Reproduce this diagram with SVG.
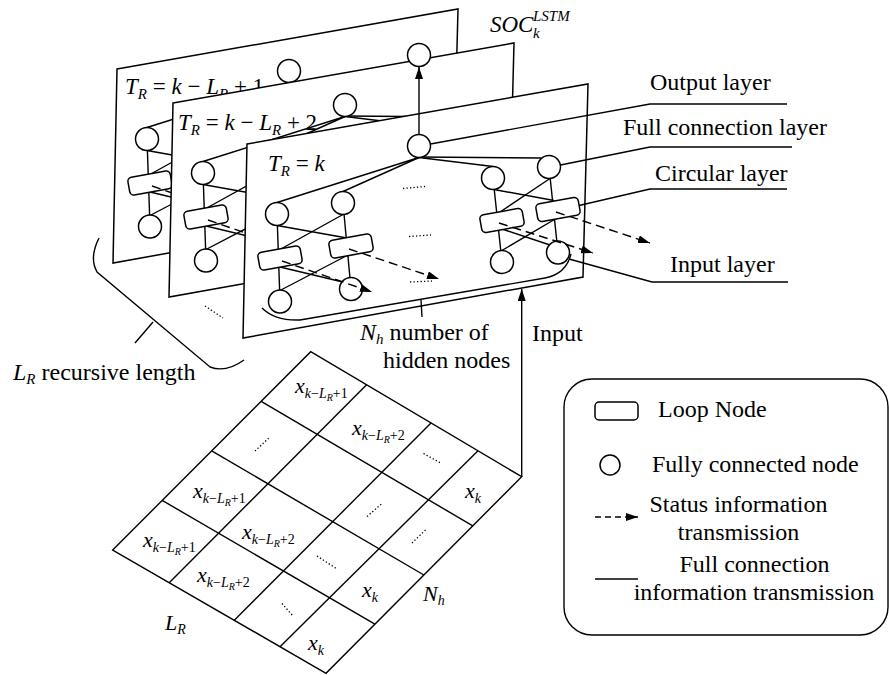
<svg xmlns="http://www.w3.org/2000/svg" width="889" height="675" viewBox="0 0 889 675" font-family="'Liberation Serif', 'Times New Roman', serif">
<style>
.ln{stroke:#000;stroke-width:1.4;fill:none}
.panel{fill:#fff;stroke:#000;stroke-width:1.5}
.nd{fill:#fff;stroke:#000;stroke-width:1.5}
.dash{stroke:#000;stroke-width:1.4;fill:none;stroke-dasharray:9 5}
.dot{stroke:#000;stroke-width:1.3;fill:none;stroke-dasharray:1.3 2.2}
text{font-family:'Liberation Serif','Times New Roman',serif;fill:#000}
.t{font-size:24px}
.f{font-size:23px}
.g{font-size:22px}
.i{font-style:italic}
</style>
<defs>
<marker id="ah" viewBox="0 0 12 8" refX="12" refY="4" markerWidth="12" markerHeight="8" markerUnits="userSpaceOnUse" orient="auto"><path d="M0,0 L12,4 L0,8 z" fill="#000"/></marker>
<rect id="loop" x="-21.5" y="-9" width="43" height="18" rx="4" class="nd"/>
<g id="panelNet">
<polygon class="panel" points="247,144 588,84 583,277 243,338"/>
<g id="net-connectors" class="ln">
<path d="M419,157.5 L277,202.5"/>
<path d="M419,157.5 L343,191.5"/>
<path d="M419,157.5 L493,166.5"/>
<path d="M419,157 L541,158"/>
<path d="M277,214 L280,301.5"/>
<path d="M343,203 L351,289"/>
<path d="M493,178 L502,262"/>
<path d="M549,167 L558,252.5"/>
<path d="M277,225.5 L347,238"/>
<path d="M343,214.5 L279,250"/>
<path d="M280,267 L347,283"/>
<path d="M348,255 L279,291"/>
<path d="M494,189.5 L554,200.5"/>
<path d="M550,178.5 L500,212"/>
<path d="M502,229 L556,247"/>
<path d="M557,218 L501,251"/>
</g>
<g id="node-center"><circle class="nd" cx="419" cy="146" r="11.5"/></g>
<g id="node-fc1"><circle class="nd" cx="277" cy="214" r="11.5"/></g>
<g id="node-fc2"><circle class="nd" cx="343" cy="203" r="11.5"/></g>
<g id="node-fc3"><circle class="nd" cx="493" cy="178" r="11.5"/></g>
<g id="node-fc4"><circle class="nd" cx="549" cy="167" r="11.5"/></g>
<g id="node-loop1"><use href="#loop" transform="translate(280,258) rotate(-10)"/></g>
<g id="node-loop2"><use href="#loop" transform="translate(351,246) rotate(-10)"/></g>
<g id="node-loop3"><use href="#loop" transform="translate(502,220.5) rotate(-10)"/></g>
<g id="node-loop4"><use href="#loop" transform="translate(558,209.5) rotate(-10)"/></g>
<g id="node-in1"><circle class="nd" cx="280" cy="301.5" r="11.5"/></g>
<g id="node-in2"><circle class="nd" cx="351" cy="289" r="11.5"/></g>
<g id="node-in3"><circle class="nd" cx="502" cy="262" r="11.5"/></g>
<g id="node-in4"><circle class="nd" cx="558" cy="252.5" r="11.5"/></g>
<g id="net-status" class="dash">
<path d="M282,261 L372,292" marker-end="url(#ah)"/>
<path d="M349,249 L439,279" marker-end="url(#ah)"/>
<path d="M499,223 L593,253" marker-end="url(#ah)"/>
<path d="M556,212 L650,243" marker-end="url(#ah)"/>
</g>
<g class="dot">
<path d="M403,188.5 L425,186.5"/>
<path d="M409,236.5 L431,235"/>
<path d="M410,282 L432,281"/>
</g>
</g>
</defs>
<rect width="889" height="675" fill="#fff"/>

<g id="panel-1">
<use href="#panelNet" transform="translate(-130,-75)"/>
<text x="125" y="94" class="f"><tspan class="i">T</tspan><tspan class="i" font-size="15" dy="5">R</tspan><tspan dy="-5"> = </tspan><tspan class="i">k</tspan><tspan> − </tspan><tspan class="i">L</tspan><tspan class="i" font-size="15" dy="5">R</tspan><tspan dy="-5"> + 1</tspan></text>
</g>
<g id="panel-2">
<use href="#panelNet" transform="translate(-74,-41)"/>
<text x="178" y="130" class="f"><tspan class="i">T</tspan><tspan class="i" font-size="15" dy="5">R</tspan><tspan dy="-5"> = </tspan><tspan class="i">k</tspan><tspan> − </tspan><tspan class="i">L</tspan><tspan class="i" font-size="15" dy="5">R</tspan><tspan dy="-5"> + 2</tspan></text>
</g>
<g id="panel-3">
<use href="#panelNet"/>
<text x="268" y="170.5" class="f"><tspan class="i">T</tspan><tspan class="i" font-size="15" dy="5">R</tspan><tspan dy="-5"> = </tspan><tspan class="i">k</tspan></text>
</g>

<g id="connectors" class="ln">
<path d="M419,134.5 L419,67" marker-end="url(#ah)"/>
<path d="M430.5,144 L650,104 L787,104"/>
<path d="M560.5,165 L650,147 L792,147"/>
<path d="M579,205.5 L650,189 L787,189"/>
<path d="M569,259 L652,282 L788,282"/>
<path d="M262,308 Q275,321 300,320 L545,278 Q566,274 571,254"/>
<path d="M421,300 L422,317"/>
<path d="M99,238 Q89,258 97,272 L210,367 Q226,373 244,360"/>
<path d="M153,322 L135,343"/>
<path d="M521.7,477 L521.7,289" marker-end="url(#ah)"/>
<path class="dot" d="M205,306 L223,318"/>
</g>

<g id="node-output"><circle class="nd" cx="419" cy="55" r="11.5"/></g>
<text x="490" y="32" class="f i">SOC</text>
<text x="533" y="21" class="i" font-size="15">LSTM</text>
<text x="533" y="38" class="i" font-size="15">k</text>

<text x="650" y="90" class="t">Output layer</text>
<text x="623" y="135" class="t">Full connection layer</text>
<text x="655" y="181" class="t">Circular layer</text>
<text x="670" y="272" class="t">Input layer</text>

<text x="532" y="341" class="t">Input</text>
<text x="360" y="340" class="t"><tspan class="i">N</tspan><tspan class="i" font-size="15" dy="4">h</tspan><tspan dy="-4"> number of</tspan></text>
<text x="383" y="368" class="t">hidden nodes</text>
<text x="13" y="380" class="t"><tspan class="i">L</tspan><tspan class="i" font-size="15" dy="4">R</tspan><tspan dy="-4"> recursive length</tspan></text>

<g id="grid">
<polygon class="ln" points="112.7,550 310.7,351.7 521.7,476.7 326,673.3"/>
<g class="ln">
<path d="M162.2,500.4 L374.9,624.2"/>
<path d="M211.7,450.9 L423.9,575"/>
<path d="M261.2,401.3 L472.8,525.9"/>
<path d="M169.2,582.7 L366.6,384.8"/>
<path d="M234.3,620.3 L431,423"/>
<path d="M280,646.7 L478,450.8"/>
</g>
<g class="dot">
<path d="M255,451 L270,437"/>
<path d="M367,516.5 L382,503.5"/>
<path d="M412,543 L427,528.5"/>
<path d="M423.5,453.5 L441.5,463.5"/>
<path d="M317,556 L337,569"/>
<path d="M282,603.5 L293,616"/>
</g>
<g class="g">
<text x="295" y="393"><tspan class="i">x</tspan><tspan class="i" font-size="14" dy="5">k</tspan><tspan font-size="14">−</tspan><tspan class="i" font-size="14">L</tspan><tspan class="i" font-size="10" dy="3">R</tspan><tspan font-size="14" dy="-3">+1</tspan></text>
<text x="352" y="435"><tspan class="i">x</tspan><tspan class="i" font-size="14" dy="5">k</tspan><tspan font-size="14">−</tspan><tspan class="i" font-size="14">L</tspan><tspan class="i" font-size="10" dy="3">R</tspan><tspan font-size="14" dy="-3">+2</tspan></text>
<text x="193" y="498"><tspan class="i">x</tspan><tspan class="i" font-size="14" dy="5">k</tspan><tspan font-size="14">−</tspan><tspan class="i" font-size="14">L</tspan><tspan class="i" font-size="10" dy="3">R</tspan><tspan font-size="14" dy="-3">+1</tspan></text>
<text x="242" y="539"><tspan class="i">x</tspan><tspan class="i" font-size="14" dy="5">k</tspan><tspan font-size="14">−</tspan><tspan class="i" font-size="14">L</tspan><tspan class="i" font-size="10" dy="3">R</tspan><tspan font-size="14" dy="-3">+2</tspan></text>
<text x="143" y="547"><tspan class="i">x</tspan><tspan class="i" font-size="14" dy="5">k</tspan><tspan font-size="14">−</tspan><tspan class="i" font-size="14">L</tspan><tspan class="i" font-size="10" dy="3">R</tspan><tspan font-size="14" dy="-3">+1</tspan></text>
<text x="197" y="582"><tspan class="i">x</tspan><tspan class="i" font-size="14" dy="5">k</tspan><tspan font-size="14">−</tspan><tspan class="i" font-size="14">L</tspan><tspan class="i" font-size="10" dy="3">R</tspan><tspan font-size="14" dy="-3">+2</tspan></text>
<text x="465" y="498"><tspan class="i">x</tspan><tspan class="i" font-size="14" dy="5">k</tspan></text>
<text x="362" y="597"><tspan class="i">x</tspan><tspan class="i" font-size="14" dy="5">k</tspan></text>
<text x="308" y="650"><tspan class="i">x</tspan><tspan class="i" font-size="14" dy="5">k</tspan></text>
<text x="165" y="630"><tspan class="i">L</tspan><tspan class="i" font-size="14" dy="4">R</tspan></text>
<text x="423" y="601"><tspan class="i">N</tspan><tspan class="i" font-size="14" dy="4">h</tspan></text>
</g>
</g>

<g id="legend">
<rect class="ln" x="564" y="379" width="324" height="256" rx="28"/>
<g id="legend-loop"><rect class="nd" x="595" y="402" width="43" height="18" rx="4"/></g>
<g id="legend-fc"><circle class="nd" cx="610" cy="465" r="10"/></g>
<path class="dash" style="stroke-dasharray:6 4" d="M595,517 L638,517" marker-end="url(#ah)"/>
<path class="ln" d="M595,579 L638,579"/>
<text x="658" y="417" class="t">Loop Node</text>
<text x="652" y="472" class="t">Fully connected node</text>
<text x="738.5" y="512" class="t" text-anchor="middle">Status information</text>
<text x="738.5" y="540" class="t" text-anchor="middle">transmission</text>
<text x="754.5" y="572" class="t" text-anchor="middle">Full connection</text>
<text x="754" y="600" class="t" text-anchor="middle">information transmission</text>
</g>
</svg>
